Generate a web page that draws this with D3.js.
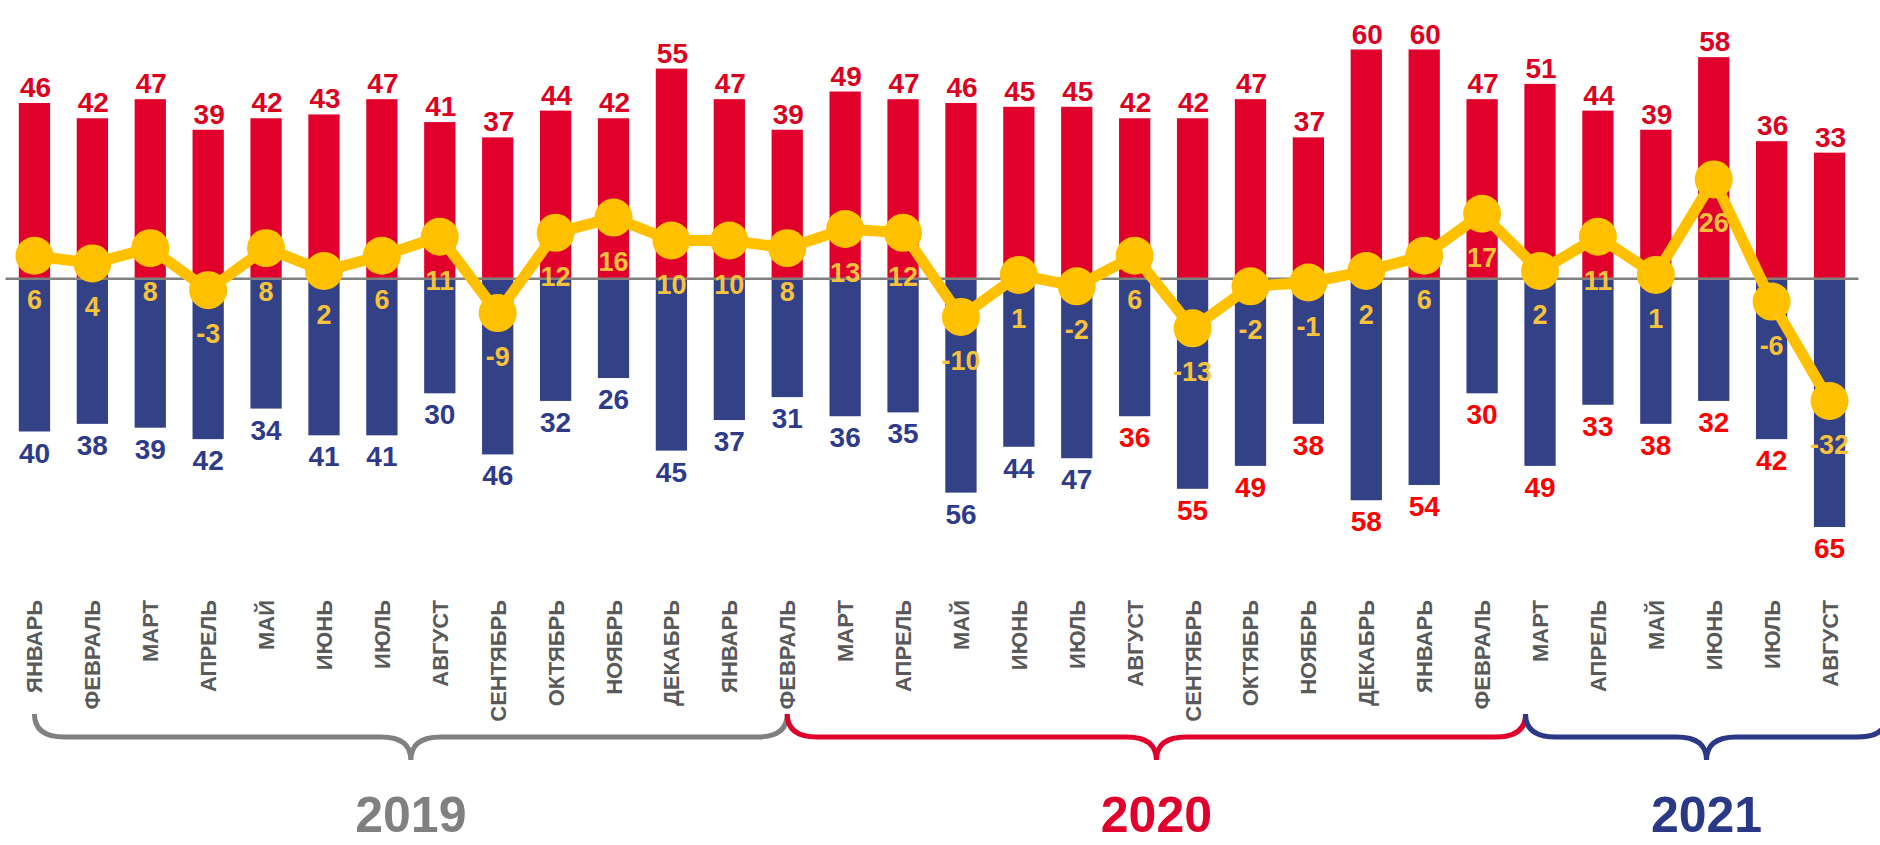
<!DOCTYPE html>
<head>
  <meta charset="utf-8">
  <title>Balance by month</title>
  <style>
      body {
          margin: 0;
          background-color: #ffffff;
      }
      svg text {
          font-family: "Liberation Sans", Arial, sans-serif;
          font-weight: bold;
      }
  </style>
  <script src="https://d3js.org/d3.v7.js"></script>
</head>
<body>

<div id="chart"></div>

<script>
    // month labels (2019-01 .. 2021-08)
    const months = ["ЯНВАРЬ", "ФЕВРАЛЬ", "МАРТ", "АПРЕЛЬ", "МАЙ", "ИЮНЬ", "ИЮЛЬ", "АВГУСТ",
        "СЕНТЯБРЬ", "ОКТЯБРЬ", "НОЯБРЬ", "ДЕКАБРЬ",
        "ЯНВАРЬ", "ФЕВРАЛЬ", "МАРТ", "АПРЕЛЬ", "МАЙ", "ИЮНЬ", "ИЮЛЬ", "АВГУСТ",
        "СЕНТЯБРЬ", "ОКТЯБРЬ", "НОЯБРЬ", "ДЕКАБРЬ",
        "ЯНВАРЬ", "ФЕВРАЛЬ", "МАРТ", "АПРЕЛЬ", "МАЙ", "ИЮНЬ", "ИЮЛЬ", "АВГУСТ"];

    // upper (red) bars
    const positive = [46, 42, 47, 39, 42, 43, 47, 41, 37, 44, 42, 55,
        47, 39, 49, 47, 46, 45, 45, 42, 42, 47, 37, 60,
        60, 47, 51, 44, 39, 58, 36, 33];

    // lower (blue) bars, drawn below zero
    const negative = [40, 38, 39, 42, 34, 41, 41, 30, 46, 32, 26, 45,
        37, 31, 36, 35, 56, 44, 47, 36, 55, 49, 38, 58,
        54, 30, 49, 33, 38, 32, 42, 65];

    // balance line
    const balance = [6, 4, 8, -3, 8, 2, 6, 11, -9, 12, 16, 10,
        10, 8, 13, 12, -10, 1, -2, 6, -13, -2, -1, 2,
        6, 17, 2, 11, 1, 26, -6, -32];

    // year groups: from / to in month index units
    const years = ["2019", "2020", "2021"];
    const yearFrom = [0, 13, 25.75];
    const yearTo = [13, 25.75, 32];
    const yearColors = ["#808080", "#e0002b", "#2b3886"];

    const width = 1880;
    const height = 845;

    const svg = d3.select("#chart")
        .append("svg")
        .attr("width", width)
        .attr("height", height);

    const idx = months.map((_, i) => i);

    const x = d3.scaleBand()
        .domain(idx)
        .range([5.5, 1858.5])
        .paddingInner(0.46)
        .paddingOuter(0.23);

    const y = d3.scaleLinear()
        .domain([-65, 60])
        .range([527, 49.5]);

    const cx = i => x(i) + x.bandwidth() / 2;
    // fractional month index -> pixel
    const fx = v => cx(0) + v * x.step();

    // red bars
    svg.append("g")
        .selectAll("rect")
        .data(positive)
        .join("rect")
        .attr("x", (d, i) => x(i))
        .attr("y", d => y(d))
        .attr("width", x.bandwidth())
        .attr("height", d => y(0) - y(d))
        .style("fill", "#e0002b");

    // blue bars
    svg.append("g")
        .selectAll("rect")
        .data(negative)
        .join("rect")
        .attr("x", (d, i) => x(i))
        .attr("y", y(0))
        .attr("width", x.bandwidth())
        .attr("height", d => y(-d) - y(0))
        .style("fill", "#334187");

    // zero line
    svg.append("line")
        .attr("x1", x.range()[0])
        .attr("x2", x.range()[1])
        .attr("y1", y(0))
        .attr("y2", y(0))
        .style("stroke", "#808080")
        .style("stroke-width", 2.5);

    // balance line + markers
    const line = d3.line()
        .x((d, i) => cx(i))
        .y(d => y(d));

    svg.append("path")
        .datum(balance)
        .attr("d", line)
        .style("fill", "none")
        .style("stroke", "#ffc000")
        .style("stroke-width", 11)
        .style("stroke-linejoin", "round");

    svg.append("g")
        .selectAll("circle")
        .data(balance)
        .join("circle")
        .attr("cx", (d, i) => cx(i))
        .attr("cy", d => y(d))
        .attr("r", 19)
        .style("fill", "#ffc000");

    // labels above red bars
    svg.append("g")
        .selectAll("text")
        .data(positive)
        .join("text")
        .attr("x", (d, i) => cx(i) + 1)
        .attr("y", d => y(d) - 6)
        .attr("text-anchor", "middle")
        .style("font-size", "28px")
        .style("fill", "#dc0021")
        .text(d => d);

    // labels below blue bars (2020 Aug onwards in red)
    svg.append("g")
        .selectAll("text")
        .data(negative)
        .join("text")
        .attr("x", (d, i) => cx(i))
        .attr("y", d => y(-d) + 31)
        .attr("text-anchor", "middle")
        .style("font-size", "28px")
        .style("fill", (d, i) => i >= 19 ? "#ff0000" : "#2e3b8a")
        .text(d => d);

    // balance labels
    svg.append("g")
        .selectAll("text")
        .data(balance)
        .join("text")
        .attr("x", (d, i) => cx(i))
        .attr("y", d => y(d) + 53)
        .attr("text-anchor", "middle")
        .style("font-size", "27px")
        .style("fill", "#f7c23c")
        .text(d => d);

    // month labels, rotated
    svg.append("g")
        .selectAll("text")
        .data(months)
        .join("text")
        .attr("transform", (d, i) => `translate(${cx(i) + 8}, 600) rotate(-90)`)
        .attr("text-anchor", "end")
        .style("font-size", "22px")
        .style("fill", "#595959")
        .text(d => d);

    // curly braces under the months
    function brace(x0, x1) {
        const yE = 714, yH = 737, yT = 760, r = 30;
        const xm = (x0 + x1) / 2;
        return `M${x0},${yE} Q${x0},${yH} ${x0 + r},${yH} H${xm - r} Q${xm},${yH} ${xm},${yT}` +
            ` M${xm},${yT} Q${xm},${yH} ${xm + r},${yH} H${x1 - r} Q${x1},${yH} ${x1},${yE}`;
    }

    svg.append("g")
        .selectAll("path")
        .data(years)
        .join("path")
        .attr("d", (d, i) => brace(fx(yearFrom[i]), fx(yearTo[i])))
        .style("fill", "none")
        .style("stroke", (d, i) => yearColors[i])
        .style("stroke-width", 5);

    svg.append("g")
        .selectAll("text")
        .data(years)
        .join("text")
        .attr("x", (d, i) => fx((yearFrom[i] + yearTo[i]) / 2))
        .attr("y", 832)
        .attr("text-anchor", "middle")
        .style("font-size", "50px")
        .style("fill", (d, i) => yearColors[i])
        .text(d => d);
</script>

</body>
